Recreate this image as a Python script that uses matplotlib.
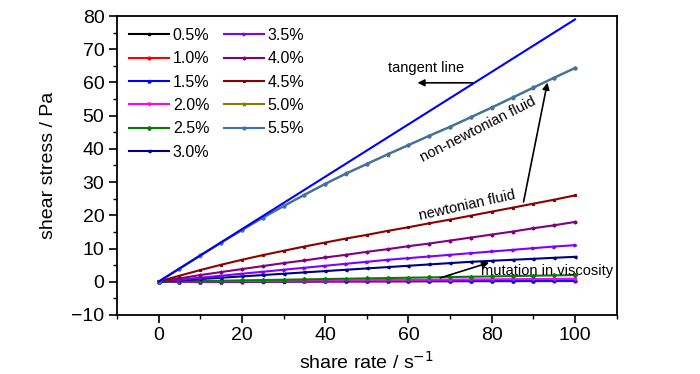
import matplotlib
matplotlib.use("Agg")
import matplotlib.pyplot as plt
from matplotlib.ticker import MultipleLocator

plt.rcParams['font.family'] = ['Liberation Sans', 'DejaVu Sans']

# shear rate (s^-1), one value every 5 units
rate = [0, 5, 10, 15, 20, 25, 30, 35, 40, 45, 50, 55, 60, 65, 70, 75, 80, 85, 90, 95, 100]

labels = ['0.5%', '1.0%', '1.5%', '2.0%', '2.5%', '3.0%',
          '3.5%', '4.0%', '4.5%', '5.0%', '5.5%']

s05 = [0, 0.01, 0.02, 0.03, 0.04, 0.05, 0.06, 0.07, 0.08, 0.09, 0.10,
       0.11, 0.12, 0.13, 0.14, 0.15, 0.16, 0.17, 0.18, 0.19, 0.20]
s10 = [0, 0.02, 0.03, 0.05, 0.06, 0.08, 0.09, 0.11, 0.12, 0.14, 0.15,
       0.17, 0.18, 0.20, 0.21, 0.23, 0.24, 0.26, 0.27, 0.29, 0.30]
s15 = [0, 0.02, 0.04, 0.06, 0.08, 0.10, 0.12, 0.14, 0.16, 0.18, 0.20,
       0.22, 0.24, 0.26, 0.28, 0.30, 0.32, 0.34, 0.36, 0.38, 0.40]
s20 = [0, 0.05, 0.09, 0.14, 0.18, 0.23, 0.27, 0.32, 0.36, 0.41, 0.45,
       0.50, 0.54, 0.59, 0.63, 0.68, 0.72, 0.77, 0.81, 0.86, 0.90]
s25 = [0, 0.1, 0.2, 0.3, 0.4, 0.5, 0.6, 0.7, 0.8, 0.9, 1.0,
       1.1, 1.2, 1.3, 1.4, 1.5, 1.6, 1.7, 1.8, 1.9, 2.0]
s30 = [0, 0.4, 0.8, 1.2, 1.6, 2.0, 2.4, 2.8, 3.2, 3.6, 4.0,
       4.4, 4.8, 5.2, 5.6, 6.0, 6.3, 6.6, 6.9, 7.2, 7.5]
s35 = [0, 0.6, 1.2, 1.8, 2.4, 3.0, 3.6, 4.2, 4.8, 5.4, 6.0,
       6.6, 7.1, 7.6, 8.1, 8.6, 9.1, 9.6, 10.1, 10.6, 11.0]
s40 = [0, 1.0, 2.0, 2.9, 3.8, 4.7, 5.6, 6.4, 7.3, 8.1, 9.0,
       9.8, 10.7, 11.5, 12.4, 13.3, 14.2, 15.1, 16.1, 17.0, 18.0]
s45 = [0, 1.8, 3.5, 5.1, 6.6, 8.0, 9.3, 10.6, 11.8, 13.0, 14.1,
       15.3, 16.4, 17.6, 18.7, 19.9, 21.1, 22.3, 23.5, 24.7, 26.0]
s50 = [0, 3.9, 7.8, 11.7, 15.5, 19.2, 22.7, 26.1, 29.4, 32.5, 35.4,
       38.3, 41.1, 43.9, 46.6, 49.5, 52.4, 55.4, 58.4, 61.4, 64.3]
s55 = [0, 3.95, 7.9, 11.8, 15.6, 19.3, 22.8, 26.2, 29.5, 32.6, 35.5,
       38.4, 41.2, 44.0, 46.7, 49.6, 52.5, 55.5, 58.5, 61.5, 64.4]

tangent_x = [0, 100]
tangent_y = [0, 79]

series = [s05, s10, s15, s20, s25, s30, s35, s40, s45, s50, s55]
colors = ['black', 'red', 'blue', 'magenta', 'green', 'navy',
          '#8000ff', 'purple', 'darkred', 'olive', '#3f72af']
markers = ['s', 'o', '^', 'v', 'D', '<', '>', 'h', '*', 'p', 'o']

fig = plt.figure(figsize=(7, 3.74), dpi=100)
ax = fig.add_axes([0.167, 0.158, 0.714, 0.799])

for y, c, m, lab in zip(series, colors, markers, labels):
    ax.plot(rate, y, color=c, marker=m, markersize=2, linewidth=1.5, label=lab)

ax.plot(tangent_x, tangent_y, color='blue', linewidth=1.5)

ax.set_xlim(-10, 110)
ax.set_ylim(-10, 80)
ax.xaxis.set_major_locator(MultipleLocator(20))
ax.xaxis.set_minor_locator(MultipleLocator(10))
ax.yaxis.set_major_locator(MultipleLocator(10))
ax.yaxis.set_minor_locator(MultipleLocator(5))
ax.tick_params(which='both', direction='out', top=False, right=False, labelsize=14)
ax.tick_params(which='major', length=6, width=1.2, pad=3)
ax.tick_params(which='minor', length=3, width=1)
for sp in ax.spines.values():
    sp.set_linewidth(1.3)

ax.set_xlabel('share rate / s$^{-1}$', fontsize=14, labelpad=5)
ax.set_ylabel('shear stress / Pa', fontsize=14, labelpad=10)

ax.legend(ncol=2, frameon=False, loc='upper left', fontsize=11.5,
          handlelength=2.5, handletextpad=0.25, labelspacing=0.52,
          columnspacing=0.9, borderaxespad=0.35)

# annotations
ax.annotate('', xy=(61.5, 59.9), xytext=(76, 59.9),
            arrowprops=dict(arrowstyle='-|>', color='black', lw=1.2))
ax.text(55, 64.5, 'tangent line', fontsize=10.5, va='center')

ax.annotate('', xy=(93.5, 60.8), xytext=(87.5, 23.2),
            arrowprops=dict(arrowstyle='-|>', color='black', lw=1.2))
ax.text(76.7, 45.8, 'non-newtonian fluid', fontsize=10.5, rotation=27,
        ha='center', va='center', rotation_mode='anchor')
ax.text(74.1, 22.9, 'newtonian fluid', fontsize=10.5, rotation=12.5,
        ha='center', va='center', rotation_mode='anchor')

ax.annotate('', xy=(80, 6.0), xytext=(67, 0.9),
            arrowprops=dict(arrowstyle='-|>', color='black', lw=1.2))
ax.text(77.5, 3.3, 'mutation in viscosity', fontsize=10.5, va='center')

fig.savefig('out.png', dpi=100)
